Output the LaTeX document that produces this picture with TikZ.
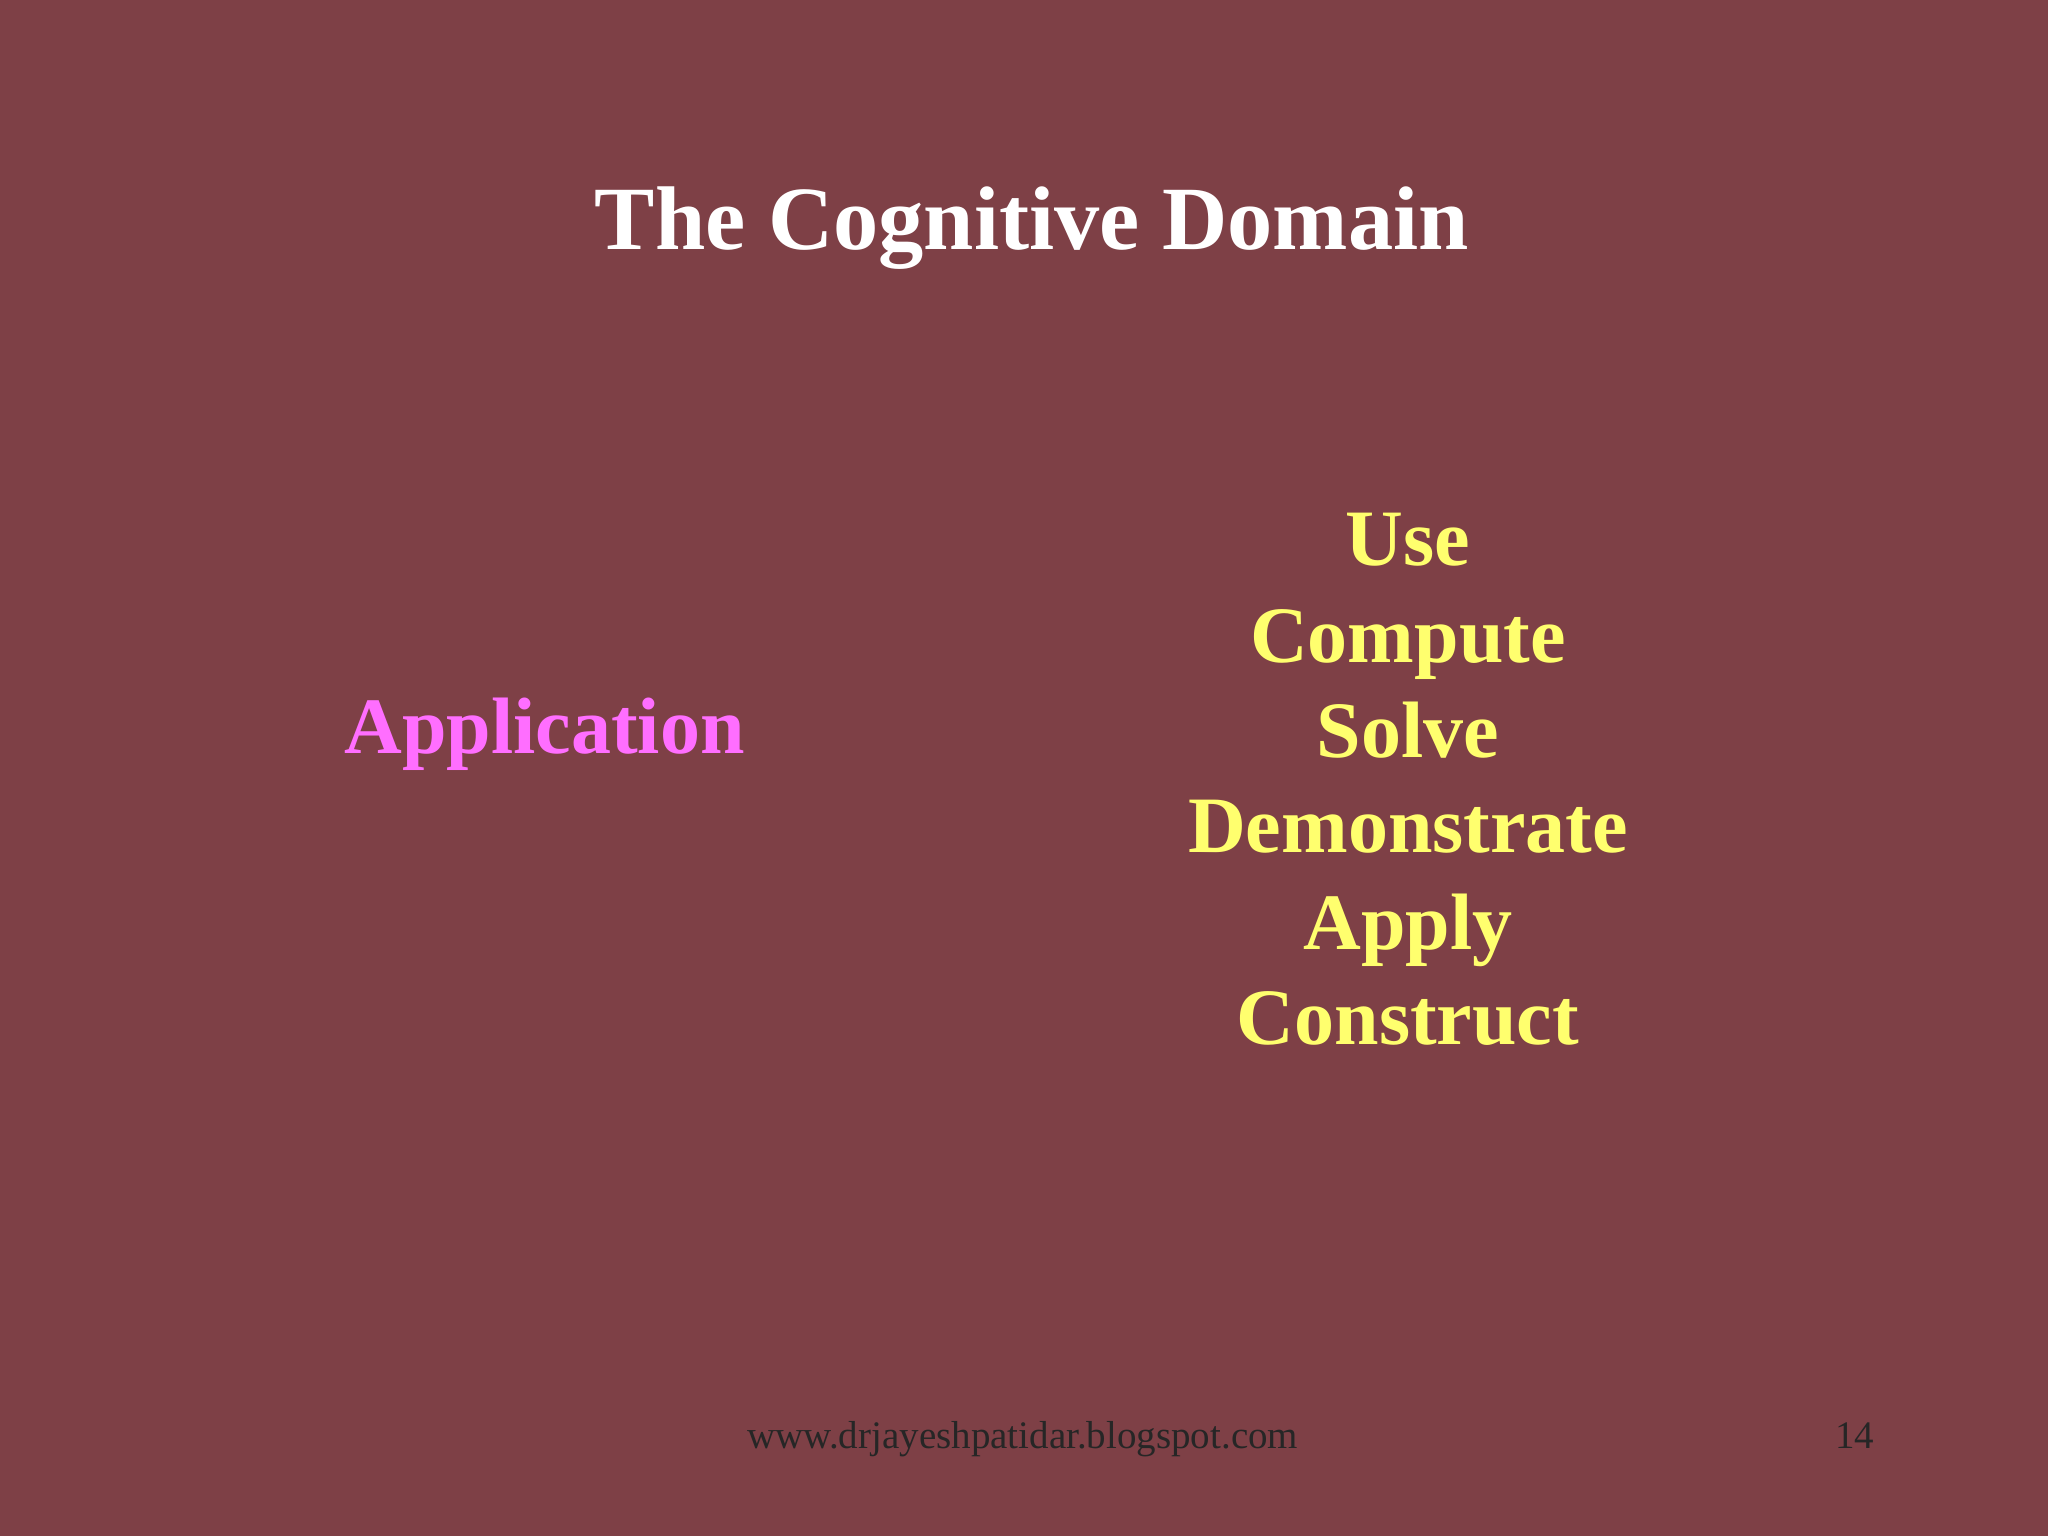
\documentclass[tikz,border=0pt]{standalone}
\usepackage{fontspec}
\setmainfont{Liberation Serif}
\definecolor{bgred}{RGB}{126,64,70}
\definecolor{ylw}{RGB}{255,255,110}
\definecolor{mag}{RGB}{255,110,255}
\begin{document}
\begin{tikzpicture}[x=0.653pt,y=-0.653pt,
  title/.style={text=white,font=\bfseries\fontsize{45.2}{52}\selectfont},
  word/.style={text=ylw,font=\bfseries\fontsize{40}{48}\selectfont,align=center},
  term/.style={text=mag,font=\bfseries\fontsize{40}{48}\selectfont},
  foot/.style={text=black!85,font=\fontsize{19.5}{22}\selectfont}]
\fill[bgred] (0,0) rectangle (1568,1176);
\useasboundingbox (0,0) rectangle (1568,1176);
\node[title] (t) at (790,175) {The Cognitive Domain};
\node[term] (app) at (417,562) {Application};
\node[word,anchor=base] (w1) at (1078,433) {Use};
\node[word,anchor=base] (w2) at (1078,507) {Compute};
\node[word,anchor=base] (w3) at (1078,580) {Solve};
\node[word,anchor=base] (w4) at (1078,653) {Demonstrate};
\node[word,anchor=base] (w5) at (1078,727) {Apply};
\node[word,anchor=base] (w6) at (1078,800) {Construct};
\node[foot,anchor=base] (url) at (783,1109) {www.drjayeshpatidar.blogspot.com};
\node[foot,anchor=base] (pg) at (1420,1109) {14};
\end{tikzpicture}
\end{document}
